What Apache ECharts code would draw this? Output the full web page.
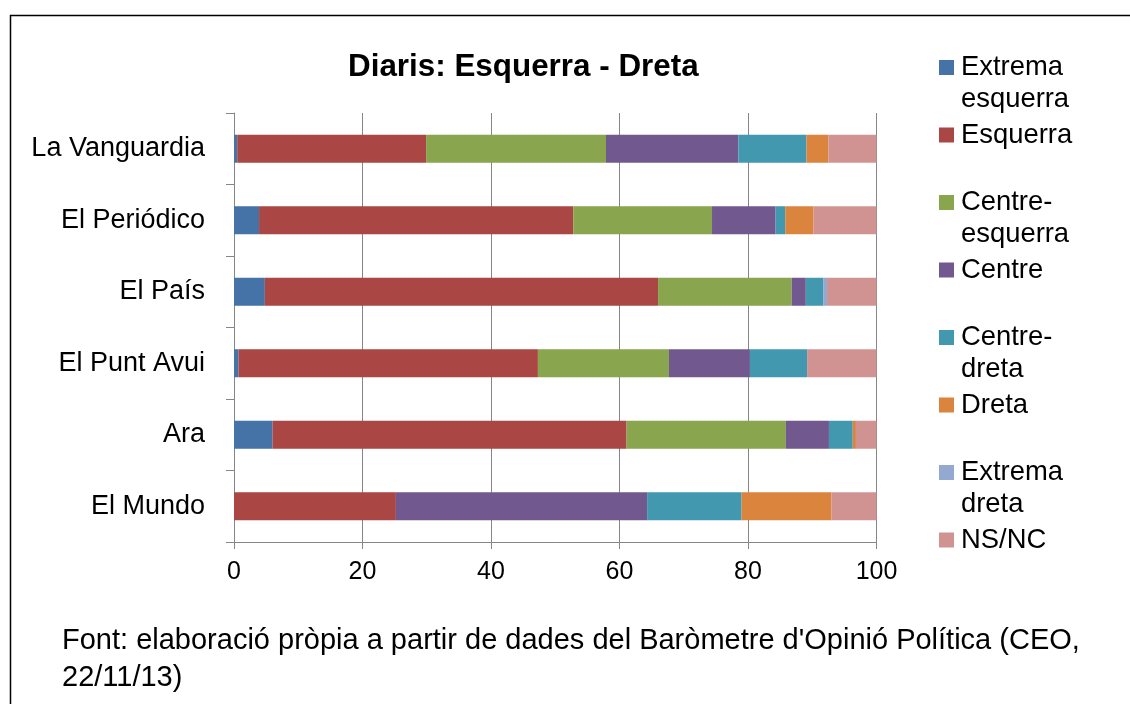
<!DOCTYPE html>
<html>
<head>
<meta charset="utf-8">
<script src="https://cdn.jsdelivr.net/npm/echarts@6/dist/echarts.min.js"></script>
<style>
html,body{margin:0;padding:0;background:#fff;}
#chart{width:1130px;height:704px;}
</style>
</head>
<body>
<div id="chart"></div>
<script>
var categories = ['La Vanguardia', 'El Periódico', 'El País', 'El Punt Avui', 'Ara', 'El Mundo'];
var seriesNames = ['Extrema esquerra', 'Esquerra', 'Centre-esquerra', 'Centre', 'Centre-dreta', 'Dreta', 'Extrema dreta', 'NS/NC'];
var legendLabels = ['Extrema\nesquerra', 'Esquerra\n ', 'Centre-\nesquerra', 'Centre\n ', 'Centre-\ndreta', 'Dreta\n ', 'Extrema\ndreta', 'NS/NC\n '];
var extremaEsquerra = [0.5, 3.9, 4.8, 0.7, 6.0, 0];
var esquerra = [29.4, 48.9, 61.2, 46.6, 55.1, 25.2];
var centreEsquerra = [28.0, 21.6, 20.8, 20.4, 24.8, 0];
var centre = [20.6, 9.9, 2.2, 12.6, 6.7, 39.1];
var centreDreta = [10.6, 1.5, 2.7, 8.9, 3.7, 14.7];
var dreta = [3.4, 4.4, 0, 0, 0.5, 14.0];
var extremaDreta = [0, 0, 0.6, 0, 0, 0];
var nsnc = [7.5, 9.8, 7.7, 10.8, 3.2, 7.0];
var xTicks = [0, 20, 40, 60, 80, 100];
var titleText = 'Diaris: Esquerra - Dreta';
var footnote = "Font: elaboració pròpia a partir de dades del Baròmetre d'Opinió Política (CEO,\n22/11/13)";

var colors = ['#4572A7', '#AA4643', '#89A54E', '#71588F', '#4198AF', '#DB843D', '#93A9CF', '#D19392'];
var values = [extremaEsquerra, esquerra, centreEsquerra, centre, centreDreta, dreta, extremaDreta, nsnc];
var FONT = "'Liberation Sans', Arial, sans-serif";

var chart = echarts.init(document.getElementById('chart'), null, {renderer: 'canvas'});
var series = seriesNames.map(function (n, i) {
  return {
    name: n,
    type: 'bar',
    stack: 'total',
    barWidth: 28,
    data: values[i],
    itemStyle: {color: colors[i], borderWidth: 0},
    emphasis: {disabled: true}
  };
});
chart.setOption({
  animation: false,
  color: colors,
  title: [
    {text: titleText, left: 348, top: 52, padding: 0,
     textStyle: {fontFamily: FONT, fontSize: 31.4, fontWeight: 'bold', color: '#000'}},
    {text: footnote, left: 62, top: 622, padding: 0,
     textStyle: {fontFamily: FONT, fontSize: 29, fontWeight: 'normal', color: '#000', lineHeight: 37}}
  ],
  legend: {
    orient: 'vertical',
    left: 939,
    top: 52,
    padding: 0,
    itemGap: 4.5,
    itemWidth: 17,
    itemHeight: 47,
    icon: 'path://M0,0L15,0L15,15L0,15Z M0,47L17,47',
    itemStyle: {borderWidth: 0},
    data: seriesNames,
    formatter: function (name) { return legendLabels[seriesNames.indexOf(name)]; },
    textStyle: {fontFamily: FONT, fontSize: 27.4, color: '#000', lineHeight: 31.5},
    selectedMode: false
  },
  grid: {left: 234, right: 253.5, top: 113, bottom: 162, containLabel: false},
  xAxis: {
    type: 'value',
    min: xTicks[0],
    max: xTicks[xTicks.length - 1],
    interval: xTicks[1] - xTicks[0],
    axisLine: {show: true, lineStyle: {color: '#868686', width: 1}},
    axisTick: {show: true, length: 7, lineStyle: {color: '#868686'}},
    splitLine: {show: true, lineStyle: {color: '#868686', width: 1}},
    axisLabel: {fontFamily: FONT, fontSize: 25, color: '#000', margin: 18}
  },
  yAxis: {
    type: 'category',
    data: categories,
    inverse: true,
    axisLine: {show: true, lineStyle: {color: '#868686', width: 1}},
    axisTick: {show: true, length: 8, lineStyle: {color: '#868686'}},
    axisLabel: {fontFamily: FONT, fontSize: 27, color: '#000', margin: 29}
  },
  graphic: [{
    type: 'rect',
    shape: {x: 10.5, y: 15.5, width: 1200, height: 800},
    style: {fill: 'none', stroke: '#000', lineWidth: 1.5},
    silent: true,
    z: -1
  }],
  series: series
});
</script>
</body>
</html>
